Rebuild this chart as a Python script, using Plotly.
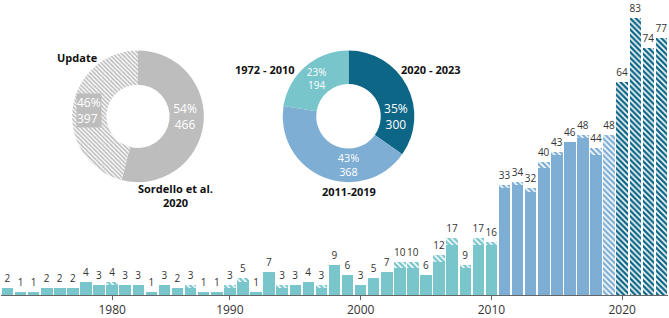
import plotly.graph_objects as go

# ---------------- data ----------------
years = ["1972", "1973", "1974", "1975", "1976", "1977", "1978", "1979", "1980",
         "1981", "1982", "1983", "1984", "1985", "1986", "1987", "1989",
         "1990", "1991", "1992", "1993", "1994", "1995", "1996", "1997", "1998", "1999",
         "2000", "2001", "2002", "2003", "2004", "2005", "2006", "2007", "2008", "2009",
         "2010", "2011", "2012", "2013", "2014", "2015", "2016", "2017", "2018", "2019",
         "2020", "2021", "2022", "2023"]
totals = [2, 1, 1, 2, 2, 2, 4, 3, 4,
          3, 3, 1, 3, 2, 3, 1, 1,
          3, 5, 1, 7, 3, 3, 4, 3, 9, 6,
          3, 5, 7, 10, 10, 6, 12, 17, 9, 17,
          16, 33, 34, 32, 40, 43, 46, 48, 44, 48,
          64, 83, 74, 77]
# part of each bar that comes from the update (hatched)
update = [0, 0, 0, 0, 0, 0, 0, 0, 1,
          0, 0, 0, 0, 0, 1, 0, 0,
          1, 1, 0, 0, 1, 0, 0, 1, 0, 0,
          0, 0, 0, 2, 2, 0, 2, 2, 1, 2,
          1, 1, 1, 1, 2, 1, 0, 1, 2, 48,
          64, 83, 74, 77]
periods = ["1972 - 2010", "2011-2019", "2020 - 2023"]
period_counts = [194, 368, 300]
source_labels = ["Sordello et al.<br>2020", "Update"]
source_counts = [466, 397]
tick_years = ["1980", "1990", "2000", "2010", "2020"]

# ---------------- styles ----------------
C_OLD = "#79c5cc"
C_MID = "#7eaed4"
C_NEW = "#0d6686"
GRAY = "#bdbdbd"
FONT = "Open Sans"


def period_color(y):
    y = int(y)
    if y <= 2010:
        return C_OLD
    if y <= 2019:
        return C_MID
    return C_NEW


bar_colors = [period_color(y) for y in years]
solid = [t - u for t, u in zip(totals, update)]

fig = go.Figure()
fig.add_trace(go.Bar(
    x=years, y=solid, marker=dict(color=bar_colors, line=dict(width=0)),
    hoverinfo="skip", showlegend=False))
fig.add_trace(go.Bar(
    x=years, y=update,
    text=[str(t) for t in totals], textposition="outside", constraintext="none",
    outsidetextfont=dict(family=FONT, size=10, color="#333"), cliponaxis=False,
    marker=dict(color=bar_colors, line=dict(width=0),
                pattern=dict(shape="\\", fgcolor=bar_colors, bgcolor="white",
                             fillmode="replace", size=4, solidity=0.6)),
    hoverinfo="skip", showlegend=False))

W = 667.0
H = 298.0


def dom(cx, cy, r):
    return dict(x=[(cx - r - 1) / W, (cx + r - 1) / W],
                y=[(H - cy - r) / H, (H - cy + r) / H])


total_src = sum(source_counts)
fig.add_trace(go.Pie(
    values=source_counts, labels=source_labels, sort=False, direction="clockwise",
    hole=0.48, domain=dom(138, 117.5, 66.5),
    texttemplate=["%{percent:.0%}<br>%{value}", " "], textposition="inside",
    insidetextorientation="horizontal",
    textfont=dict(family=FONT, size=12, color="white"),
    marker=dict(colors=[GRAY, "white"],
                pattern=dict(shape=["", "\\"], fgcolor=GRAY, bgcolor=[GRAY, "white"],
                             size=3, solidity=0.55),
                line=dict(width=0)),
    showlegend=False, hoverinfo="skip"))

# label of the hatched "Update" slice, on a grey box for legibility
fig.add_annotation(
    x=(89 - 1) / W, y=(H - 112) / H, xref="paper", yref="paper",
    text=f"{round(100 * source_counts[1] / total_src)}%<br>{source_counts[1]}",
    showarrow=False, font=dict(family=FONT, size=12, color="white"),
    bgcolor=GRAY, borderpad=0, xanchor="center", yanchor="middle", align="left")

fig.add_trace(go.Pie(
    values=period_counts[::-1], labels=periods[::-1], sort=False, direction="clockwise",
    hole=0.49, domain=dom(348.5, 117.5, 66.5),
    texttemplate="%{percent:.0%}<br>%{value}", textposition="inside",
    insidetextorientation="horizontal",
    textfont=dict(family=FONT, size=12, color="white"),
    marker=dict(colors=[C_NEW, C_MID, C_OLD], line=dict(width=0)),
    showlegend=False, hoverinfo="skip"))

ann_font = dict(family=FONT, size=11, color="#111", weight="bold")
labels_pos = [
    ("Update", 77, 58),
    ("Sordello et al.<br>2020", 175, 197.5),
    (periods[0], 264.5, 70.5),
    (periods[2], 431, 70.5),
    (periods[1], 349, 193),
]
for txt, px, py in labels_pos:
    fig.add_annotation(x=(px - 1) / W, y=(H - py) / H, xref="paper", yref="paper",
                       text=txt, showarrow=False, font=ann_font,
                       xanchor="center", yanchor="middle")

fig.update_layout(
    width=669, height=318,
    margin=dict(l=1, r=1, t=0, b=20),
    paper_bgcolor="white", plot_bgcolor="white",
    barmode="stack", bargap=0.12,
    uniformtext=dict(mode=False),
    xaxis=dict(type="category", tickvals=tick_years, ticktext=tick_years,
               showline=True, linecolor="#666", linewidth=1,
               ticks="outside", ticklen=4, tickcolor="#666",
               tickfont=dict(family=FONT, size=12, color="#333"),
               showgrid=False, zeroline=False, range=[-0.5, len(years) - 0.5]),
    yaxis=dict(visible=False, range=[0, 88.5], showgrid=False, zeroline=False),
)

fig.write_html("out.html")
